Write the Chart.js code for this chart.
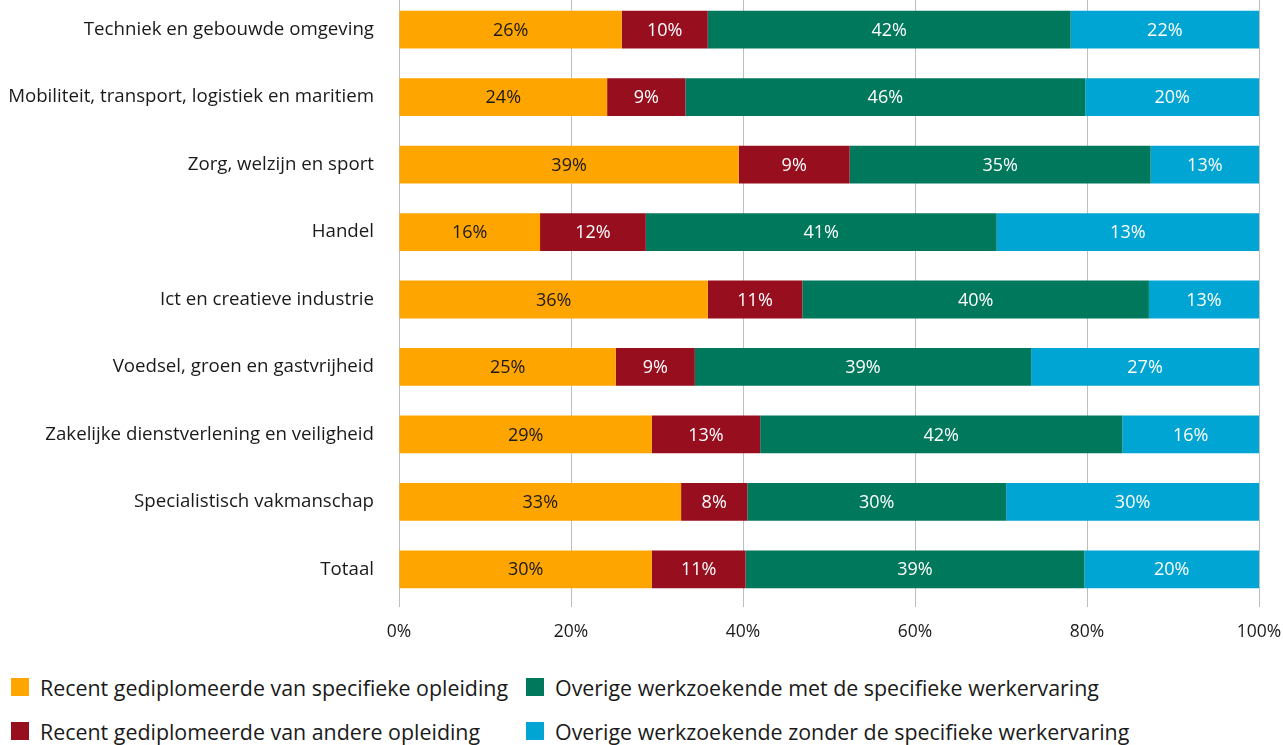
<!DOCTYPE html>
<html>
<head>
<meta charset="utf-8">
<script src="https://cdn.jsdelivr.net/npm/chart.js@4/dist/chart.umd.min.js"></script>
<style>
    body { margin: 0; background: #fff; width: 1283px; height: 745px; overflow: hidden; position: relative; }
    #wrap { position: absolute; left: 0; top: -4px; width: 1283px; height: 666px; }
    .legend-item { position: absolute; display: flex; align-items: center; font-family: "Open Sans", sans-serif; font-size: 21.4px; color: #1a1a1a; white-space: nowrap; }
    .legend-box { width: 18px; height: 18px; margin-right: 11px; }
</style>
</head>
<body>
<div id="wrap"><canvas id="myChart"></canvas></div>
<div id="legend"></div>
<script>
// Categories (top to bottom)
const categories = [
    'Techniek en gebouwde omgeving',
    'Mobiliteit, transport, logistiek en maritiem',
    'Zorg, welzijn en sport',
    'Handel',
    'Ict en creatieve industrie',
    'Voedsel, groen en gastvrijheid',
    'Zakelijke dienstverlening en veiligheid',
    'Specialistisch vakmanschap',
    'Totaal'
];

// Series names
const seriesNames = [
    'Recent gediplomeerde van specifieke opleiding',
    'Recent gediplomeerde van andere opleiding',
    'Overige werkzoekende met de specifieke werkervaring',
    'Overige werkzoekende zonder de specifieke werkervaring'
];

// Bar widths (share in %)
const recentSpecifiek = [25.9, 24.2, 39.5, 16.4, 35.9, 25.2, 29.4, 32.8, 29.4];
const recentAnders = [10.0, 9.1, 12.9, 12.3, 11.0, 9.2, 12.6, 7.7, 10.9];
const overigMet = [42.2, 46.5, 35.0, 40.8, 40.3, 39.1, 42.1, 30.1, 39.4];
const overigZonder = [21.9, 20.2, 12.6, 30.5, 12.8, 26.5, 15.9, 29.4, 20.3];

// Printed labels as they appear in the bars
const labelSpecifiek = [26, 24, 39, 16, 36, 25, 29, 33, 30];
const labelAnders = [10, 9, 9, 12, 11, 9, 13, 8, 11];
const labelMet = [42, 46, 35, 41, 40, 39, 42, 30, 39];
const labelZonder = [22, 20, 13, 13, 13, 27, 16, 30, 20];

// Axis ticks
const xMin = 0;
const xMax = 100;
const xStep = 20;

const colors = ['#ffa500', '#970e1f', '#00785c', '#00a5d3'];
const textColors = ['#1a1a1a', '#ffffff', '#ffffff', '#ffffff'];
const seriesValues = [recentSpecifiek, recentAnders, overigMet, overigZonder];
const seriesLabels = [labelSpecifiek, labelAnders, labelMet, labelZonder];

// Draw the printed percentages in the middle of each segment
const barLabels = {
    id: 'barLabels',
    afterDatasetsDraw(chart) {
        let ctx = chart.ctx;
        ctx.save();
        ctx.font = '18px "Open Sans"';
        ctx.textAlign = 'center';
        ctx.textBaseline = 'middle';
        chart.data.datasets.forEach(function (ds, i) {
            let meta = chart.getDatasetMeta(i);
            meta.data.forEach(function (bar, j) {
                let p = bar.getProps(['x', 'y', 'base'], true);
                ctx.fillStyle = textColors[i];
                ctx.fillText(seriesLabels[i][j] + '%', (p.x + p.base) / 2, p.y + 1);
            });
        });
        ctx.restore();
    }
};

function createChart() {
    var ctx = document.getElementById('myChart').getContext('2d');
    var myChart = new Chart(ctx, {
        type: 'bar',
        data: {
            labels: categories,
            datasets: seriesValues.map(function (vals, i) {
                return {
                    label: seriesNames[i],
                    data: vals,
                    backgroundColor: colors[i],
                    borderWidth: 0,
                    barPercentage: 0.56,
                    categoryPercentage: 1
                };
            })
        },
        options: {
            indexAxis: 'y',
            responsive: true,
            maintainAspectRatio: false,
            animation: false,
            layout: { padding: { top: 0, bottom: 4, left: 0, right: 0 } },
            plugins: {
                legend: { display: false },
                tooltip: { enabled: false }
            },
            scales: {
                x: {
                    stacked: true,
                    min: xMin,
                    max: xMax,
                    border: { display: false },
                    grid: { color: '#bfbfbf', lineWidth: 1, drawTicks: true, tickLength: 4, tickColor: '#bfbfbf' },
                    afterFit: function (scale) {
                        scale.paddingLeft = 0;
                        scale.paddingRight = 24;
                    },
                    ticks: {
                        stepSize: xStep,
                        padding: 15,
                        color: '#1a1a1a',
                        font: { family: 'Open Sans', size: 17.5 },
                        callback: function (v) { return v + '%'; }
                    }
                },
                y: {
                    stacked: true,
                    border: { display: false },
                    grid: { display: false, drawTicks: false },
                    afterFit: function (scale) {
                        scale.width = 399;
                        scale.paddingTop = 0;
                        scale.paddingBottom = 0;
                    },
                    ticks: {
                        padding: 25,
                        color: '#1a1a1a',
                        font: { family: 'Open Sans', size: 18.7 }
                    }
                }
            }
        },
        plugins: [barLabels]
    });
}

// Legend in two columns, built from the series
function createLegend() {
    let legend = document.getElementById('legend');
    let lefts = [11, 11, 526, 526];
    let tops = [678, 722, 678, 722];
    seriesNames.forEach(function (name, i) {
        let item = document.createElement('div');
        item.className = 'legend-item';
        item.style.left = lefts[i] + 'px';
        item.style.top = (tops[i] - 5) + 'px';
        item.style.height = '28px';
        item.innerHTML = '<span class="legend-box" style="background:' + colors[i] + '"></span><span>' + name + '</span>';
        legend.appendChild(item);
    });
}

createChart();
createLegend();
</script>
</body>
</html>
